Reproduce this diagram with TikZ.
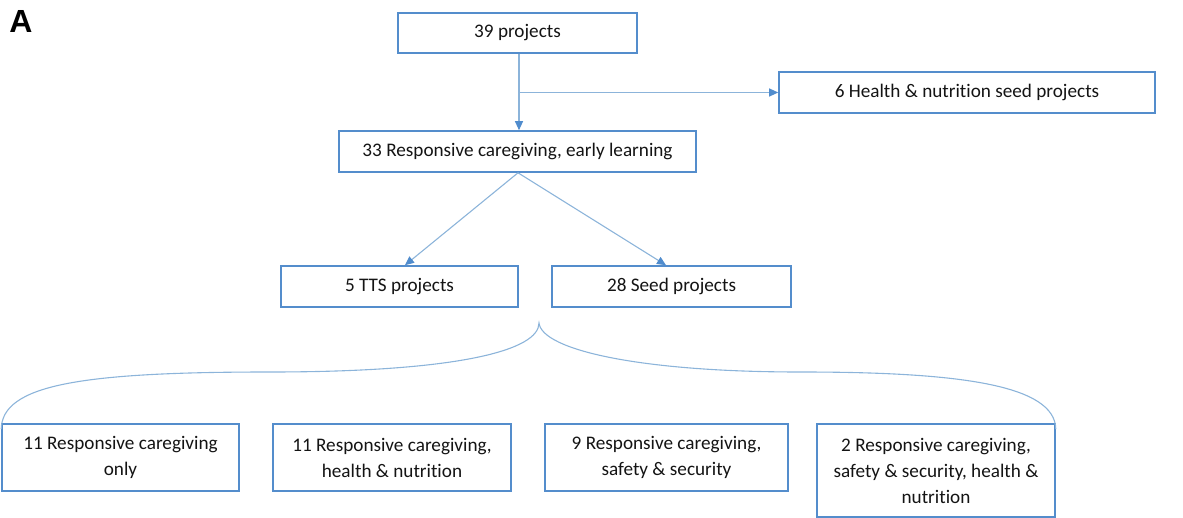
\documentclass[tikz,border=0pt]{standalone}
\usepackage{fontspec}
\setmainfont{Carlito}[Ligatures=NoCommon]
\newfontfamily\labelfont{Liberation Sans}
\usetikzlibrary{arrows.meta}
\definecolor{boxblue}{RGB}{84,141,204}
\definecolor{linkblue}{RGB}{140,180,218}
\definecolor{tipblue}{RGB}{80,140,205}
\definecolor{txt}{RGB}{20,20,20}
\tikzset{
  box/.style={draw=boxblue, line width=1.6pt, fill=white, rectangle, inner sep=0pt,
    align=center, text=txt, font=\fontsize{19.2}{26}\selectfont},
  link/.style={draw=linkblue, line width=1.1pt, -{Triangle[length=9pt,width=8pt,color=tipblue]}},
  bracket/.style={draw=linkblue, line width=1.1pt}
}
\begin{document}
\begin{tikzpicture}[x=1pt,y=-1pt]
\useasboundingbox (0,0) rectangle (1183,518);
\node[font=\labelfont\bfseries\fontsize{32}{34}\selectfont, text=black, anchor=center] (lab) at (21,21.5) {A};
\node[box, minimum width=239pt, minimum height=40pt] (p39) at (517.5,33) {39 projects};
\node[box, minimum width=376pt, minimum height=41pt] (h6) at (967,92.5) {6 Health \& nutrition seed projects};
\node[box, minimum width=357pt, minimum height=41pt] (r33) at (517.5,151.5) {33 Responsive caregiving, early learning};
\node[box, minimum width=237pt, minimum height=41pt] (tts) at (399.5,286.5) {5 TTS projects};
\node[box, minimum width=239pt, minimum height=41pt] (seed) at (671.5,286.5) {28 Seed projects};
\node[box, minimum width=237pt, minimum height=67pt] (b1) at (120.5,457.5) {11 Responsive caregiving\\only};
\node[box, minimum width=238pt, minimum height=67pt] (b2) at (392,457.5) {11 Responsive caregiving,\\health \& nutrition};
\node[box, minimum width=243pt, minimum height=67pt] (b3) at (666.5,457.5) {9 Responsive caregiving,\\safety \& security};
\node[box, minimum width=238pt, minimum height=93pt] (b4) at (936,470.5) {2 Responsive caregiving,\\safety \& security, health \&\\nutrition};
\coordinate (split) at ([xshift=1.5pt]p39.south |- h6.west);
\draw[link] ([xshift=1.5pt]p39.south) -- ([xshift=1.5pt]r33.north);
\draw[link] (split) -- (h6.west);
\draw[link] ([xshift=0.5pt]r33.south) -- ([xshift=5.5pt]tts.north);
\draw[link] ([xshift=0.5pt]r33.south) -- ([xshift=-5.5pt]seed.north);
\coordinate (tip) at (539,323);
\draw[bracket] ([yshift=-6pt]b1.north west) .. controls (2,385) and (80,372) .. (270,372)
  .. controls (460,372) and (539,350) .. (tip)
  .. controls (542,350) and (640,372) .. (800,372)
  .. controls (960,372) and (1055,385) .. ([yshift=-6pt]b4.north east);
\end{tikzpicture}
\end{document}
